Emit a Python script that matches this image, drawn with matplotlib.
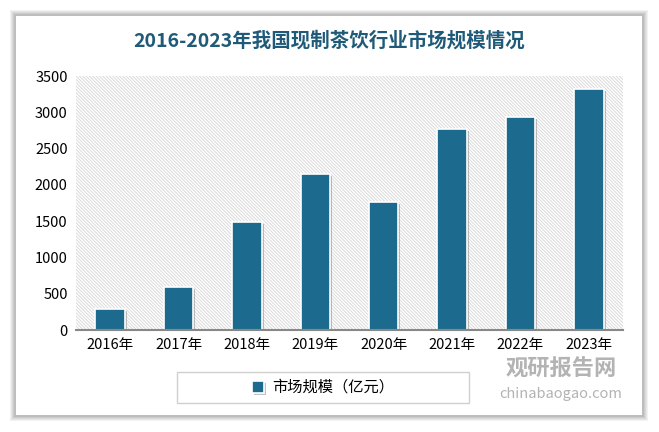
import matplotlib
matplotlib.use("Agg")
import matplotlib.pyplot as plt
from matplotlib.patches import Rectangle
import matplotlib.patheffects as pe

plt.rcParams['font.family'] = ['Noto Sans CJK SC', 'DejaVu Sans']
plt.rcParams['hatch.linewidth'] = 0.7

years = ['2016年', '2017年', '2018年', '2019年', '2020年', '2021年', '2022年', '2023年']
values = [285, 597, 1484, 2145, 1759, 2765, 2939, 3325]
series_name = '市场规模（亿元）'
title = '2016-2023年我国现制茶饮行业市场规模情况'
yticks = [0, 500, 1000, 1500, 2000, 2500, 3000, 3500]

W, H = 659, 432
fig = plt.figure(figsize=(W / 100, H / 100), dpi=100)
fig.patch.set_facecolor('white')

def fx(px):
    return px / W

def fy(py):
    return 1 - py / H

# card shadow
for i, a in enumerate([0.05, 0.05, 0.05, 0.06, 0.07]):
    g = 6 - i
    fig.patches.append(Rectangle((fx(16 - g), fy(415 + g)), fx(626 + 2 * g), (399 + 2 * g) / H,
                                 transform=fig.transFigure, facecolor='black', alpha=a,
                                 edgecolor='none', zorder=0))
fig.patches.append(Rectangle((fx(16), fy(415)), fx(626), 399 / H, transform=fig.transFigure,
                             facecolor='white', edgecolor='none', zorder=1))

ax = fig.add_axes([fx(76), fy(330), fx(623 - 76), (330 - 76) / H])
ax.set_zorder(2)
ax.patch.set_alpha(0)
x = list(range(len(years)))
ax.set_xlim(-0.5, len(years) - 0.5)
ax.set_ylim(0, 3500)

bg = Rectangle((0, 0), 1, 1, transform=ax.transAxes, facecolor='white',
               edgecolor='#dadada', hatch='\\' * 10, linewidth=0, zorder=0)
ax.add_patch(bg)

bars = ax.bar(x, values, width=0.43, color='#1c6b8e', edgecolor='white', linewidth=1.2, zorder=3)
for b in bars:
    b.set_path_effects([pe.SimplePatchShadow(offset=(1.5, -1.5), shadow_rgbFace='#555555', alpha=0.35),
                        pe.Normal()])

ax.set_xticks(x)
ax.set_xticklabels(years, fontsize=10.5, color='black')
ax.set_yticks(yticks)
ax.set_yticklabels([str(v) for v in yticks], fontsize=10.5, color='black')
ax.tick_params(axis='both', length=0, pad=6)
for s in ['top', 'right', 'left']:
    ax.spines[s].set_visible(False)
ax.spines['bottom'].set_color('#888888')
ax.spines['bottom'].set_linewidth(1.5)
ax.spines['bottom'].set_zorder(4)

fig.text(0.5, fy(41), title, ha='center', va='center', fontsize=14, fontweight='bold',
         color='#1f5a78', zorder=5)

# legend box
fig.patches.append(Rectangle((fx(177), fy(403)), fx(292), 31 / H, transform=fig.transFigure,
                             facecolor='white', edgecolor='#d0d0d0', linewidth=1, zorder=3))
leg = fig.legend([bars], [series_name], loc='center', bbox_to_anchor=(fx(323), fy(387.5)),
                 frameon=False, fontsize=11, handlelength=0.8, handleheight=0.8,
                 handletextpad=0.5)
leg.set_zorder(6)

# watermark
fig.text(fx(561), fy(369), '观研报告网', ha='center', va='center', fontsize=16,
         fontweight='bold', color='#9a9a9a', alpha=0.75, zorder=7)
fig.text(fx(561), fy(394), 'chinabaogao.com', ha='center', va='center', fontsize=10.5,
         color='#9a9a9a', alpha=0.75, zorder=7)

fig.savefig('out.png', dpi=100)
